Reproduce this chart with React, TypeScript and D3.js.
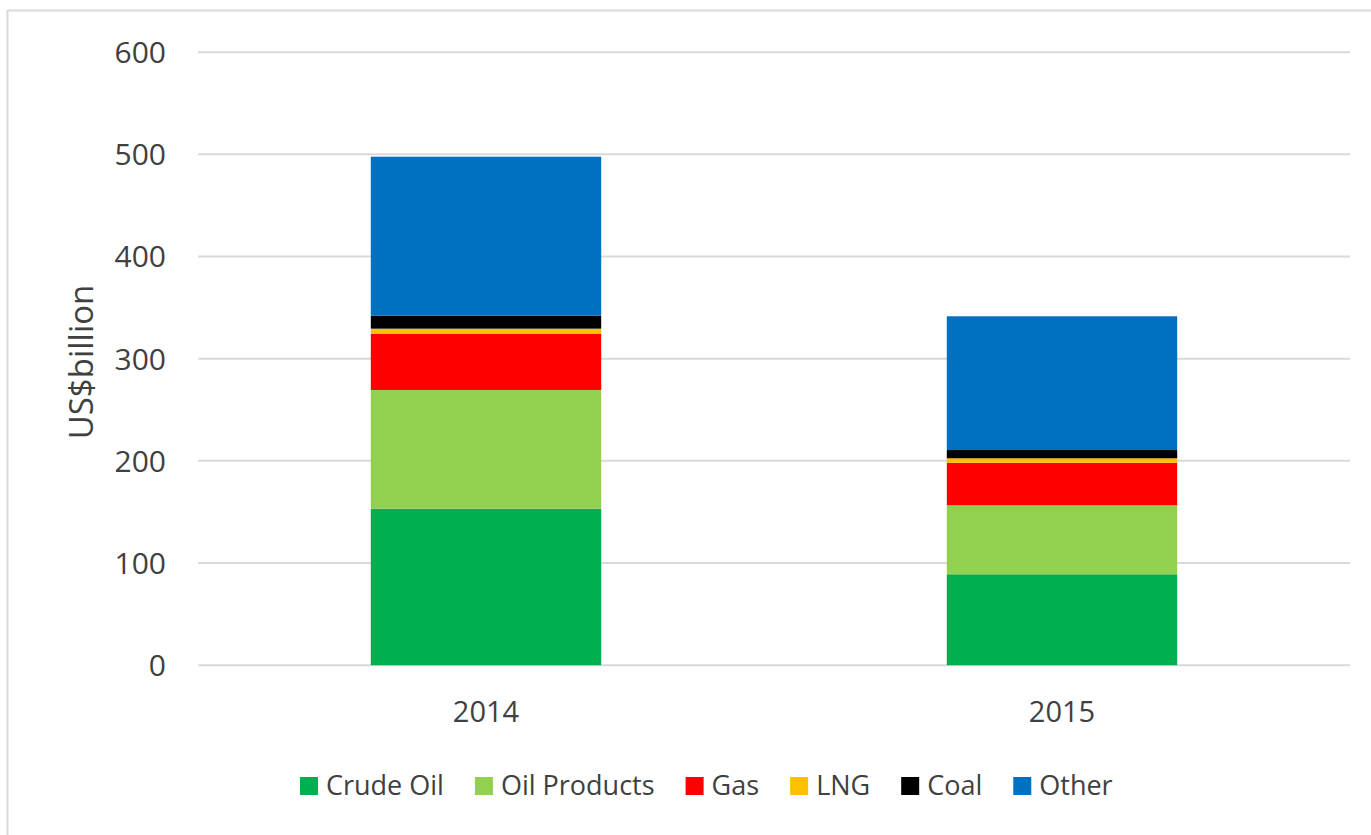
import React, { useEffect, useRef } from "react";
import * as d3 from "d3";

const years = ["2014", "2015"];
const seriesNames = ["Crude Oil", "Oil Products", "Gas", "LNG", "Coal", "Other"];
const seriesColors = ["#00B050", "#92D050", "#FF0000", "#FFC000", "#000000", "#0070C0"];
const crudeOil = [153.2, 89.0];
const oilProducts = [116.2, 67.5];
const gas = [54.8, 41.7];
const lng = [5.2, 4.3];
const coal = [12.7, 8.1];
const other = [155.6, 130.9];
const yTicks = [0, 100, 200, 300, 400, 500, 600];

const W = 1371;
const H = 835;

export default function App() {
  const ref = useRef<SVGSVGElement | null>(null);

  useEffect(() => {
    const svg = d3.select(ref.current);
    svg.selectAll("*").remove();

    const font = "'Open Sans', sans-serif";
    const textColor = "#404040";
    const left = 198, right = 1350, top = 52.2, bottom = 665.2;

    const rows = years.map((y, i) => ({
      year: y,
      "Crude Oil": crudeOil[i],
      "Oil Products": oilProducts[i],
      Gas: gas[i],
      LNG: lng[i],
      Coal: coal[i],
      Other: other[i],
    }));

    const x = d3.scaleBand<string>().domain(years).range([left, right]).paddingInner(0.6).paddingOuter(0.3);
    const y = d3.scaleLinear().domain([0, 600]).range([bottom, top]);
    const color = d3.scaleOrdinal<string, string>().domain(seriesNames).range(seriesColors);

    // outer border
    svg.append("rect")
      .attr("x", 7.5).attr("y", 10.5).attr("width", 1400).attr("height", 900)
      .attr("fill", "#fff").attr("stroke", "#D9D9D9").attr("stroke-width", 2);

    // gridlines
    svg.append("g").selectAll("line").data(yTicks).join("line")
      .attr("x1", left).attr("x2", right)
      .attr("y1", (d) => y(d)).attr("y2", (d) => y(d))
      .attr("stroke", "#D9D9D9").attr("stroke-width", 2);

    // y tick labels
    svg.append("g").selectAll("text").data(yTicks).join("text")
      .attr("x", 166).attr("y", (d) => y(d))
      .attr("dy", "0.36em")
      .attr("text-anchor", "end")
      .attr("font-family", font).attr("font-size", 30).attr("fill", textColor)
      .text((d) => String(d));

    // y title
    svg.append("text")
      .attr("transform", `translate(80,362) rotate(-90)`)
      .attr("text-anchor", "middle").attr("dominant-baseline", "central")
      .attr("font-family", font).attr("font-size", 33).attr("fill", textColor)
      .text("US$billion");

    // stacks
    const stack = d3.stack<any>().keys(seriesNames);
    const stacked = stack(rows as any);
    svg.append("g").selectAll("g").data(stacked).join("g")
      .attr("fill", (s) => color(s.key))
      .selectAll("rect").data((s) => s).join("rect")
      .attr("x", (d: any) => x(d.data.year)!)
      .attr("width", x.bandwidth())
      .attr("y", (d) => y(d[1]))
      .attr("height", (d) => y(d[0]) - y(d[1]));

    // x labels
    svg.append("g").selectAll("text").data(years).join("text")
      .attr("x", (d) => x(d)! + x.bandwidth() / 2)
      .attr("y", 722)
      .attr("text-anchor", "middle")
      .attr("font-family", font).attr("font-size", 29).attr("fill", textColor)
      .text((d) => d);

    // legend
    const lg = svg.append("g");
    let cx = 300;
    seriesNames.forEach((name) => {
      lg.append("rect").attr("x", cx).attr("y", 777).attr("width", 18).attr("height", 18)
        .attr("fill", color(name));
      const t = lg.append("text")
        .attr("x", cx + 26).attr("y", 795)
        .attr("font-family", font).attr("font-size", 27).attr("fill", textColor)
        .text(name);
      const w = (t.node() as SVGTextElement).getComputedTextLength();
      cx = cx + 26 + w + 31;
    });
  }, []);

  return (
    <svg
      ref={ref}
      width={W}
      height={H}
      style={{ position: "absolute", left: 0, top: 0, background: "#fff" }}
    />
  );
}
